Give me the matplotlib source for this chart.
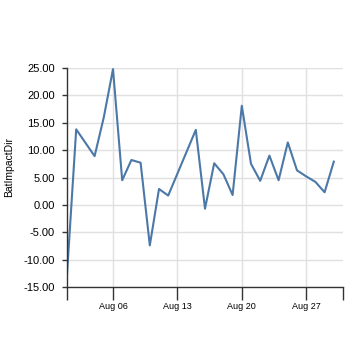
import pandas as pd
import matplotlib.pyplot as plt
import matplotlib.dates as mdates

dates = ["2018-08-01", "2018-08-02", "2018-08-04", "2018-08-05", "2018-08-06",
         "2018-08-07", "2018-08-08", "2018-08-09", "2018-08-10", "2018-08-11",
         "2018-08-12", "2018-08-15", "2018-08-16", "2018-08-17", "2018-08-18",
         "2018-08-19", "2018-08-20", "2018-08-21", "2018-08-22", "2018-08-23",
         "2018-08-24", "2018-08-25", "2018-08-26", "2018-08-27", "2018-08-28",
         "2018-08-29", "2018-08-30"]
values = [-12.7, 13.8, 8.9, 16.0, 24.8,
          4.5, 8.2, 7.7, -7.4, 2.9,
          1.7, 13.7, -0.7, 7.6, 5.6,
          1.8, 18.1, 7.5, 4.4, 9.0,
          4.5, 11.4, 6.3, 5.2, 4.2,
          2.3, 7.9]
yticks = [-15, -10, -5, 0, 5, 10, 15, 20, 25]
xticks = ["2018-08-06", "2018-08-13", "2018-08-20", "2018-08-27"]
xdomain = ["2018-08-01", "2018-08-31"]

plt.rcParams["font.family"] = ["Liberation Sans", "DejaVu Sans"]

df = pd.DataFrame({"date": pd.to_datetime(dates), "value": values})

fig = plt.figure(figsize=(3.54, 3.54), dpi=100)
ax = fig.add_axes([67 / 354, 67 / 354, 276 / 354, 219 / 354])

ax.plot(df["date"], df["value"], color="#4c78a8", linewidth=1.5)

dom = pd.to_datetime(xdomain)
ax.set_xlim(dom[0], dom[1])
ax.set_ylim(-15, 25)

ax.set_yticks(yticks)
ax.set_yticklabels([f"{v:.2f}" for v in yticks])
ax.set_xticks(pd.to_datetime(xticks))
ax.xaxis.set_major_formatter(mdates.DateFormatter("%b %d"))
ax.set_xticks(dom, minor=True)

ax.grid(True, which="major", color="#e0e0e0", linewidth=1)
ax.set_axisbelow(True)

for s in ["top", "right"]:
    ax.spines[s].set_visible(False)
for s in ["left", "bottom"]:
    ax.spines[s].set_color("#333333")
    ax.spines[s].set_linewidth(1)

ax.tick_params(axis="y", length=3.6, width=1, color="#333333", pad=5, labelsize=8)
ax.tick_params(axis="x", which="both", length=9, width=1, color="#333333", pad=2, labelsize=6.5)

ax.set_ylabel("BatImpactDir", fontsize=7.5)
ax.yaxis.set_label_coords(-0.19, 0.55)

fig.savefig("out.png", dpi=100)
